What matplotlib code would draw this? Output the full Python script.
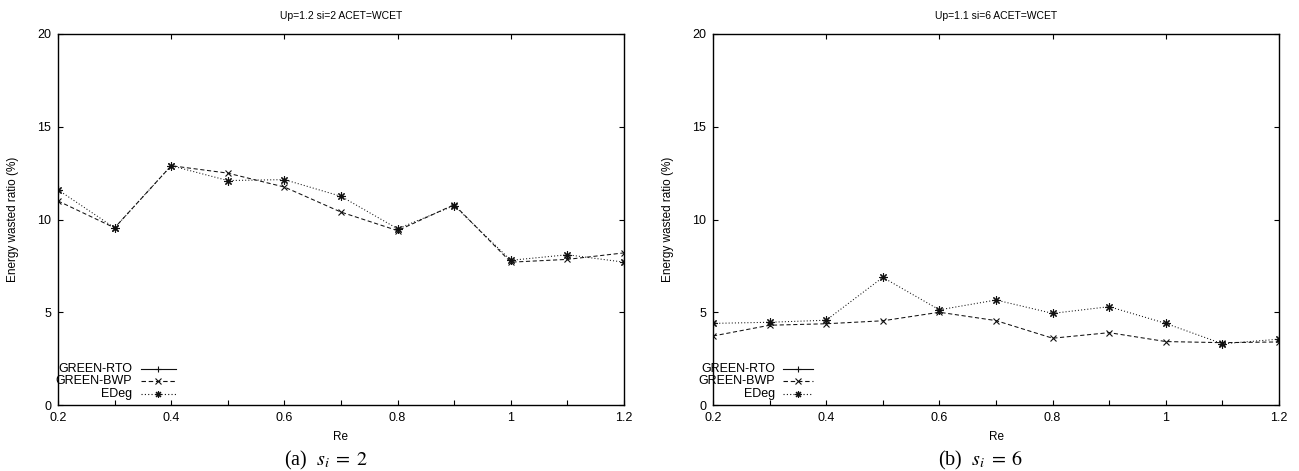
import numpy as np
import matplotlib
matplotlib.use('Agg')
import matplotlib.pyplot as plt
from matplotlib.ticker import MultipleLocator

plt.rcParams['font.family'] = ['Liberation Sans', 'DejaVu Sans']
plt.rcParams['mathtext.fontset'] = 'stix'

re_vals = [0.2, 0.3, 0.4, 0.5, 0.6, 0.7, 0.8, 0.9, 1.0, 1.1, 1.2]

# panel (a): Up=1.2 si=2  (GREEN-RTO curve is not visible in the chart)
rto_a  = [np.nan] * 11
bwp_a  = [11.0, 9.55, 12.9, 12.5, 11.75, 10.4, 9.4, 10.8, 7.7, 7.85, 8.2]
edeg_a = [11.6, 9.55, 12.9, 12.1, 12.15, 11.25, 9.5, 10.75, 7.8, 8.1, 7.7]

# panel (b): Up=1.1 si=6
rto_b  = [np.nan] * 11
bwp_b  = [3.72, 4.3, 4.38, 4.54, 5.0, 4.55, 3.6, 3.9, 3.42, 3.36, 3.4]
edeg_b = [4.4, 4.46, 4.57, 6.88, 5.13, 5.66, 4.94, 5.3, 4.4, 3.3, 3.55]

labels = ['GREEN-RTO', 'GREEN-BWP', 'EDeg']
titles = ['Up=1.2 si=2 ACET=WCET', 'Up=1.1 si=6 ACET=WCET']
captions = ['(a)  $s_i\\;=\\;2$', '(b)  $s_i\\;=\\;6$']

styles = [dict(ls='-', marker='+', ms=6),
          dict(ls=(0, (4, 2.5)), marker='x', ms=5),
          dict(ls=(0, (1, 2)), marker=(8, 2, 0), ms=6)]

fig = plt.figure(figsize=(12.99, 4.71), dpi=100)
W, H = 1299.0, 471.0
axes_px = [(58, 624), (713, 1279)]
leg_px = [(0.131, 0.147, 0.208), (0.110, 0.124, 0.177)]
series = [(rto_a, bwp_a, edeg_a), (rto_b, bwp_b, edeg_b)]

for i, (x0, x1) in enumerate(axes_px):
    ax = fig.add_axes([x0 / W, (H - 405) / H, (x1 - x0) / W, (405 - 34) / H])
    for ys, st, lab in zip(series[i], styles, labels):
        ax.plot(re_vals, ys, color='#111111', lw=0.75, mew=0.8, **st)
    ax.set_xlim(0.2, 1.2)
    ax.set_ylim(0, 20)
    ax.xaxis.set_minor_locator(MultipleLocator(0.1))
    ax.yaxis.set_major_locator(MultipleLocator(5))
    ax.set_xticks([0.2, 0.4, 0.6, 0.8, 1.0, 1.2])
    ax.set_xticklabels(['0.2', '0.4', '0.6', '0.8', '1', '1.2'])
    ax.tick_params(which='both', direction='in', top=True, right=True,
                   length=3.5, width=0.8, labelsize=9, pad=5)
    ax.tick_params(which='minor', top=False)
    for sp in ax.spines.values():
        sp.set_linewidth(1.0)
    ax.set_title(titles[i], fontsize=7.5, pad=11)
    ax.set_xlabel('Re', fontsize=8.5, labelpad=5)
    ax.set_ylabel('Energy wasted ratio (%)', fontsize=8.5, labelpad=13)

    # gnuplot style key: right-aligned text, sample line to its right
    tx, lx0, lx1 = leg_px[i]
    for k, (st, lab) in enumerate(zip(styles, labels)):
        yy = [0.097, 0.065, 0.030][k]
        ax.text(tx, yy, lab, transform=ax.transAxes, ha='right', va='center',
                fontsize=9)
        ax.plot([lx0, lx1], [yy, yy], transform=ax.transAxes, color='#111111',
                lw=0.8, ls=st['ls'], clip_on=False)
        ax.plot([(lx0 + lx1) / 2], [yy], transform=ax.transAxes, color='#111111',
                marker=st['marker'], ms=st['ms'] - 1, mew=0.8, clip_on=False)

    fig.text(((x0 + x1) / 2 - 15) / W, 1 - 460 / H, captions[i], ha='center',
             va='center', fontsize=14.5, family='Liberation Serif')

fig.savefig('out.png', dpi=100)
